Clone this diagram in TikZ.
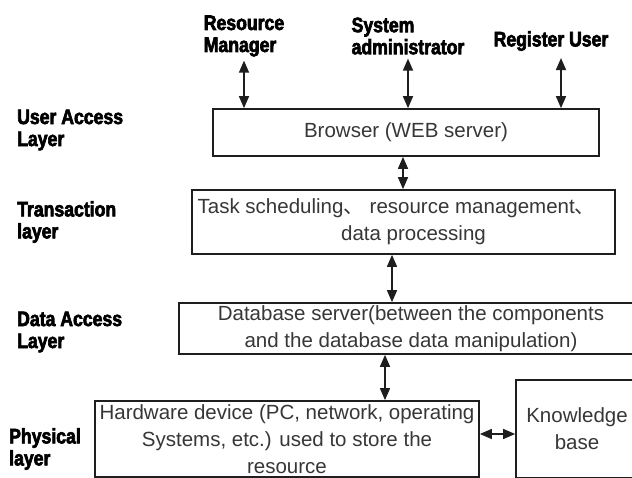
\documentclass[tikz,border=0pt]{standalone}
\usepackage{fontspec}
\usepackage{tikz}
\usetikzlibrary{arrows.meta, positioning, calc}
\setmainfont{Liberation Sans}
\newfontfamily\cjk{Noto Sans CJK SC}
\newfontfamily\heavy[FakeStretch=0.84,FakeBold=3]{Liberation Sans Bold}
\definecolor{Tinta}     {RGB}{30, 30, 30}
\definecolor{TextoGris} {RGB}{55, 55, 55}

\begin{document}
\begin{tikzpicture}[
      x=1pt,y=-1pt,
      capa/.style  ={draw=Tinta,line width=1.7pt,fill=white,text=TextoGris,
                     inner sep=0pt,font=\fontsize{20.5}{27}\selectfont,align=center},
      rotulo/.style={font=\heavy\fontsize{21}{22}\selectfont,align=left,inner sep=0pt},
      fl/.style    ={arrows={Triangle[length=12pt,width=10pt]-Triangle[length=12pt,width=10pt]},
                     line width=1.5pt,Tinta}]
      \useasboundingbox (0,0) rectangle (632,478);
      \clip (0,0) rectangle (632,478);
      % actors on top
      \node[rotulo] (rm) at (244,36) {Resource\\Manager};
      \node[rotulo] (sa) at (408,36) {System\\administrator};
      \node[rotulo] (ru) at (551,41) {Register User};
      % layer names
      \node[rotulo,anchor=west] (lua) at (17,130) {User Access\\Layer};
      \node[rotulo,anchor=west] (ltr) at (17,222) {Transaction\\layer};
      \node[rotulo,anchor=west] (lda) at (17,332) {Data Access\\Layer};
      \node[rotulo,anchor=west] (lph) at (9,449) {Physical\\layer};
      % layer boxes
      \node[capa,minimum width=386pt,minimum height=47pt] (web) at (406,132.5)
        {Browser (WEB server)};
      \node[capa,minimum width=423pt,minimum height=64pt] (tx) at (403.5,222)
        {Task scheduling{\cjk 、} resource management{\cjk 、}\hspace*{14pt}\\
         \hspace*{20pt}data processing};
      \node[capa,minimum width=464pt,minimum height=51pt] (db) at (411,328.5)
        {Database server(between the components\\and the database data manipulation)};
      \node[capa,minimum width=384pt,minimum height=76pt] (hw) at (287,439)
        {Hardware device (PC, network, operating\\Systems, etc.) used to store the\\resource};
      \node[capa,minimum width=122pt,minimum height=98pt] (kb) at (577,429)
        {Knowledge\\base};
      % connectors
      \draw[fl] ([yshift=-4pt]rm.south) -- (rm.south |- web.north);
      \draw[fl] ([yshift=-4pt]sa.south) -- (sa.south |- web.north);
      \draw[fl] ($(ru.south)+(10,7)$) -- ($(ru.south |- web.north)+(10,0)$);
      \draw[fl] ($(web.south)+(-3,0)$) -- ($(tx.north)+(-0.5,0)$);
      \draw[fl] ($(tx.south)+(-11.5,0)$) -- ($(db.north)+(-19,0)$);
      \draw[fl] ($(db.south)+(-26,0)$) -- ($(hw.north)+(98,0)$);
      \draw[fl] ($(hw.east)+(0,-5)$) -- ($(kb.west)+(0,5)$);
    \end{tikzpicture}
\end{document}
